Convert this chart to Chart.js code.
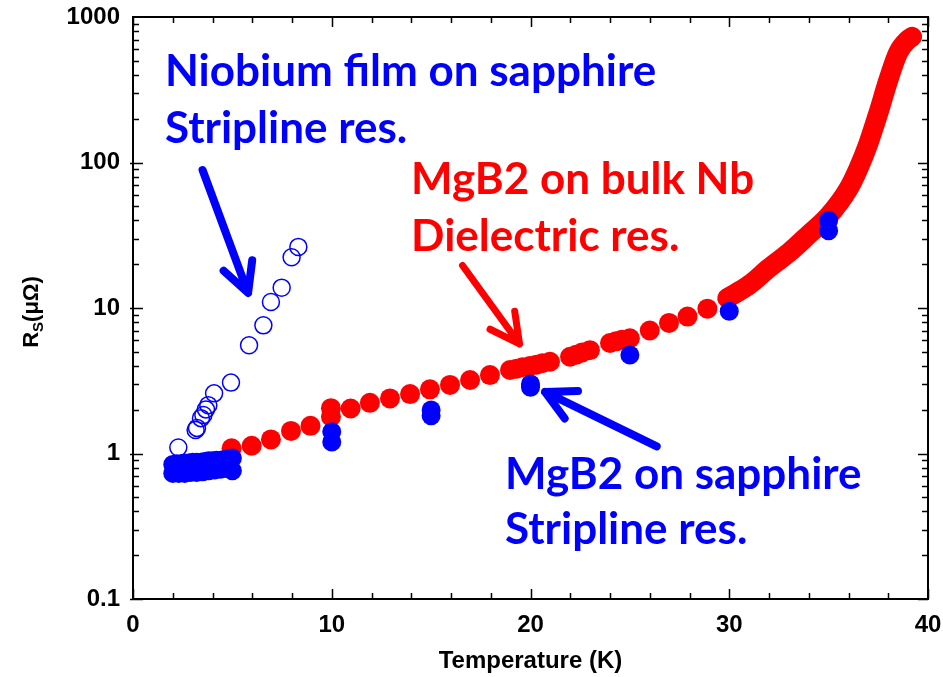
<!DOCTYPE html>
<html>
<head>
<meta charset="utf-8">
<script src="https://cdn.jsdelivr.net/npm/chart.js@4"></script>
<style>
  body { margin: 0; background: #fff; }
  canvas { display: block; }
</style>
</head>
<body>
<canvas id="rs-chart" width="943" height="677"></canvas>
<script>
// Niobium film on sapphire, stripline resonator (open circles)
const nbFilmT = [2.28, 3.15, 3.22, 3.42, 3.54, 3.67, 3.79, 4.08, 4.93, 5.84, 6.56, 6.94, 7.48, 7.98, 8.32];
const nbFilmR = [1.10, 1.45, 1.50, 1.75, 1.84, 2.01, 2.15, 2.59, 3.07, 5.54, 7.6, 11.0, 13.8, 22.3, 26.3];

// MgB2 on sapphire, stripline resonator (filled blue)
const mgbSapphireT = [2.0, 2.2, 2.4, 2.6, 2.8, 3.0, 3.2, 3.4, 3.6, 3.8, 4.0, 4.2, 4.4, 4.6, 4.8, 5.0,
                      2.0, 2.3, 2.6, 2.9, 3.2, 3.5, 3.8, 4.1, 4.4, 4.7, 5.0,
                      10, 10, 15, 15, 20, 20, 25, 30, 35, 35];
const mgbSapphireR = [0.84, 0.85, 0.85, 0.86, 0.86, 0.87, 0.87, 0.87, 0.88, 0.89, 0.89, 0.90, 0.90, 0.91, 0.92, 0.93,
                      0.73, 0.73, 0.73, 0.74, 0.74, 0.75, 0.76, 0.77, 0.78, 0.79, 0.76,
                      1.41, 1.20, 1.99, 1.82, 2.85, 3.0, 4.76, 9.5, 40, 34];

// MgB2 on bulk Nb, dielectric resonator (filled red, discrete part)
const mgbBulkT = [4.96, 5.97, 6.94, 7.95, 8.93, 9.96, 9.96, 10.95, 11.92, 12.93, 13.94, 14.94, 15.95, 16.96, 17.96,
                  18.97, 19.3, 19.6, 19.97, 20.3, 20.6, 20.98, 21.99, 22.3, 22.6, 22.99, 24.0, 24.3, 24.6, 25.0,
                  26.0, 26.97, 27.9, 28.9];
const mgbBulkR = [1.085, 1.13, 1.25, 1.43, 1.55, 2.05, 1.79, 2.04, 2.23, 2.39, 2.56, 2.76, 2.96, 3.2, 3.46,
                  3.75, 3.83, 3.92, 4.0, 4.08, 4.17, 4.27, 4.62, 4.78, 4.95, 5.13, 5.75, 5.9, 6.05, 6.2,
                  7.0, 7.9, 8.73, 9.9];

// MgB2 on bulk Nb, dense measurement close to Tc (drawn as a thick trace)
const mgbBulkCurveT = [29.9, 31, 32, 33, 34, 35, 36, 36.5, 37, 37.5, 38, 38.5, 39, 39.2];
const mgbBulkCurveR = [11.7, 14.4, 18.8, 24, 32, 43, 66, 91, 135, 218, 367, 570, 700, 730];

const xTicks = [0, 10, 20, 30, 40];
const yTicks = [0.1, 1, 10, 100, 1000];
const yTickLabels = ["0.1", "1", "10", "100", "1000"];

const BLUE = "#0000ff";
const RED = "#ff0000";

// annotations (data coordinates)
const notes = [
  { text: "Niobium film on sapphire", t: 1.61, r: 334, color: BLUE },
  { text: "Stripline res.", t: 1.61, r: 137, color: BLUE },
  { text: "MgB2 on bulk Nb", t: 13.99, r: 61, color: RED },
  { text: "Dielectric res.", t: 13.99, r: 24.6, color: RED },
  { text: "MgB2 on sapphire", t: 18.72, r: 0.57, color: BLUE },
  { text: "Stripline res.", t: 18.72, r: 0.24, color: BLUE },
];
const arrows = [
  { from: [3.5, 88.8], to: [5.79, 12.7], color: BLUE, width: 8 },
  { from: [16.58, 19.6], to: [19.45, 5.66], color: RED, width: 7 },
  { from: [26.35, 1.119], to: [20.73, 2.65], color: BLUE, width: 8 },
];

const toPoints = (xs, ys) => xs.map((x, i) => ({ x: x, y: ys[i] }));

const framePlugin = {
  id: "frame",
  afterDatasetsDraw(chart) {
    const ctx = chart.ctx;
    const xs = chart.scales.x;
    const ys = chart.scales.y;

    // arrows
    arrows.forEach((a) => {
      const x0 = xs.getPixelForValue(a.from[0]);
      const y0 = ys.getPixelForValue(a.from[1]);
      const x1 = xs.getPixelForValue(a.to[0]);
      const y1 = ys.getPixelForValue(a.to[1]);
      const ang = Math.atan2(y1 - y0, x1 - x0);
      const head = 33;
      const spread = 0.48;
      ctx.save();
      ctx.strokeStyle = a.color;
      ctx.lineWidth = a.width;
      ctx.lineCap = "round";
      ctx.lineJoin = "round";
      ctx.beginPath();
      ctx.moveTo(x0, y0);
      ctx.lineTo(x1, y1);
      ctx.moveTo(x1 - head * Math.cos(ang - spread), y1 - head * Math.sin(ang - spread));
      ctx.lineTo(x1, y1);
      ctx.lineTo(x1 - head * Math.cos(ang + spread), y1 - head * Math.sin(ang + spread));
      ctx.stroke();
      ctx.restore();
    });

    // annotation text
    ctx.save();
    ctx.font = "bold 44px Lato";
    ctx.textAlign = "left";
    ctx.textBaseline = "alphabetic";
    notes.forEach((n) => {
      ctx.fillStyle = n.color;
      ctx.fillText(n.text, xs.getPixelForValue(n.t), ys.getPixelForValue(n.r));
    });
    ctx.restore();
  },
  afterDraw(chart) {
    const ctx = chart.ctx;
    const { left, right, top, bottom } = chart.chartArea;
    const xs = chart.scales.x;
    const ys = chart.scales.y;
    ctx.save();
    ctx.strokeStyle = "#000";
    ctx.lineWidth = 2;
    ctx.strokeRect(left, top, right - left, bottom - top);

    ctx.lineWidth = 1.5;
    ctx.beginPath();
    // x ticks, every 2 K, inward on bottom and top
    for (let t = 0; t <= 40; t += 2) {
      const px = Math.round(xs.getPixelForValue(t)) + 0.5;
      const len = t % 10 === 0 ? 10 : 6;
      ctx.moveTo(px, bottom);
      ctx.lineTo(px, bottom - len);
      ctx.moveTo(px, top);
      ctx.lineTo(px, top + len);
    }
    // y ticks, log decades with minor ticks, inward on left and right
    for (let d = -1; d < 3; d++) {
      for (let m = 1; m <= 9; m++) {
        const v = m * Math.pow(10, d);
        const py = Math.round(ys.getPixelForValue(v)) + 0.5;
        const len = m === 1 ? 10 : 6;
        ctx.moveTo(left - (m === 1 ? 3 : 0), py);
        ctx.lineTo(left + len, py);
        ctx.moveTo(right, py);
        ctx.lineTo(right - len, py);
      }
    }
    ctx.stroke();

    // axis titles
    ctx.fillStyle = "#000";
    ctx.font = "bold 24px 'Liberation Sans'";
    ctx.textAlign = "center";
    ctx.textBaseline = "alphabetic";
    ctx.fillText("Temperature (K)", (left + right) / 2, 668);

    ctx.translate(38, 312);
    ctx.rotate(-Math.PI / 2);
    const big = "bold 22px 'Liberation Sans'";
    const small = "bold 15px 'Liberation Sans'";
    ctx.font = big;
    const wR = ctx.measureText("R").width;
    const wP = ctx.measureText("(\u03bc\u03a9)").width;
    ctx.font = small;
    const wS = ctx.measureText("S").width;
    let x = -(wR + wS + wP) / 2;
    ctx.textAlign = "left";
    ctx.font = big;
    ctx.fillText("R", x, 0);
    x += wR;
    ctx.font = small;
    ctx.fillText("S", x, 5);
    x += wS;
    ctx.font = big;
    ctx.fillText("(\u03bc\u03a9)", x, 0);
    ctx.restore();
  },
};

new Chart(document.getElementById("rs-chart"), {
  type: "scatter",
  data: {
    datasets: [
      {
        label: "Niobium film on sapphire",
        data: toPoints(nbFilmT, nbFilmR),
        pointRadius: 8.5,
        pointBorderWidth: 1.5,
        pointBorderColor: BLUE,
        pointBackgroundColor: "rgba(0,0,0,0)",
      },
      {
        label: "MgB2 on sapphire",
        data: toPoints(mgbSapphireT, mgbSapphireR),
        pointRadius: 9.5,
        pointBorderWidth: 0,
        pointBackgroundColor: BLUE,
      },
      {
        label: "MgB2 on bulk Nb",
        data: toPoints(mgbBulkT, mgbBulkR),
        pointRadius: 10,
        pointBorderWidth: 0,
        pointBackgroundColor: RED,
      },
      {
        type: "line",
        label: "MgB2 on bulk Nb (near Tc)",
        data: toPoints(mgbBulkCurveT, mgbBulkCurveR),
        showLine: true,
        pointRadius: 0,
        borderColor: RED,
        borderWidth: 20,
        borderCapStyle: "round",
        borderJoinStyle: "round",
        cubicInterpolationMode: "monotone",
        fill: false,
      },
    ],
  },
  options: {
    responsive: false,
    animation: false,
    devicePixelRatio: 1,
    layout: { padding: { top: 17, right: 15, left: 0, bottom: 0 } },
    plugins: { legend: { display: false }, tooltip: { enabled: false } },
    scales: {
      x: {
        type: "linear",
        min: 0,
        max: 40,
        afterFit: (scale) => {
          scale.height = 78;
          scale.paddingLeft = 0;
          scale.paddingRight = 0;
        },
        afterBuildTicks: (axis) => { axis.ticks = xTicks.map((v) => ({ value: v })); },
        grid: { display: false, drawTicks: false },
        border: { display: false },
        ticks: {
          autoSkip: false,
          padding: 12,
          color: "#000",
          font: { family: "'Liberation Sans'", size: 24, weight: "bold" },
        },
      },
      y: {
        type: "logarithmic",
        min: 0.1,
        max: 1000,
        afterFit: (scale) => {
          scale.width = 133;
          scale.paddingTop = 0;
          scale.paddingBottom = 0;
        },
        afterBuildTicks: (axis) => { axis.ticks = yTicks.map((v) => ({ value: v })); },
        grid: { display: false, drawTicks: false },
        border: { display: false },
        ticks: {
          autoSkip: false,
          padding: 13,
          color: "#000",
          font: { family: "'Liberation Sans'", size: 24, weight: "bold" },
          callback: (value) => {
            const i = yTicks.findIndex((v) => Math.abs(v - value) < v * 1e-6);
            return i >= 0 ? yTickLabels[i] : "";
          },
        },
      },
    },
  },
  plugins: [framePlugin],
});
</script>
</body>
</html>
